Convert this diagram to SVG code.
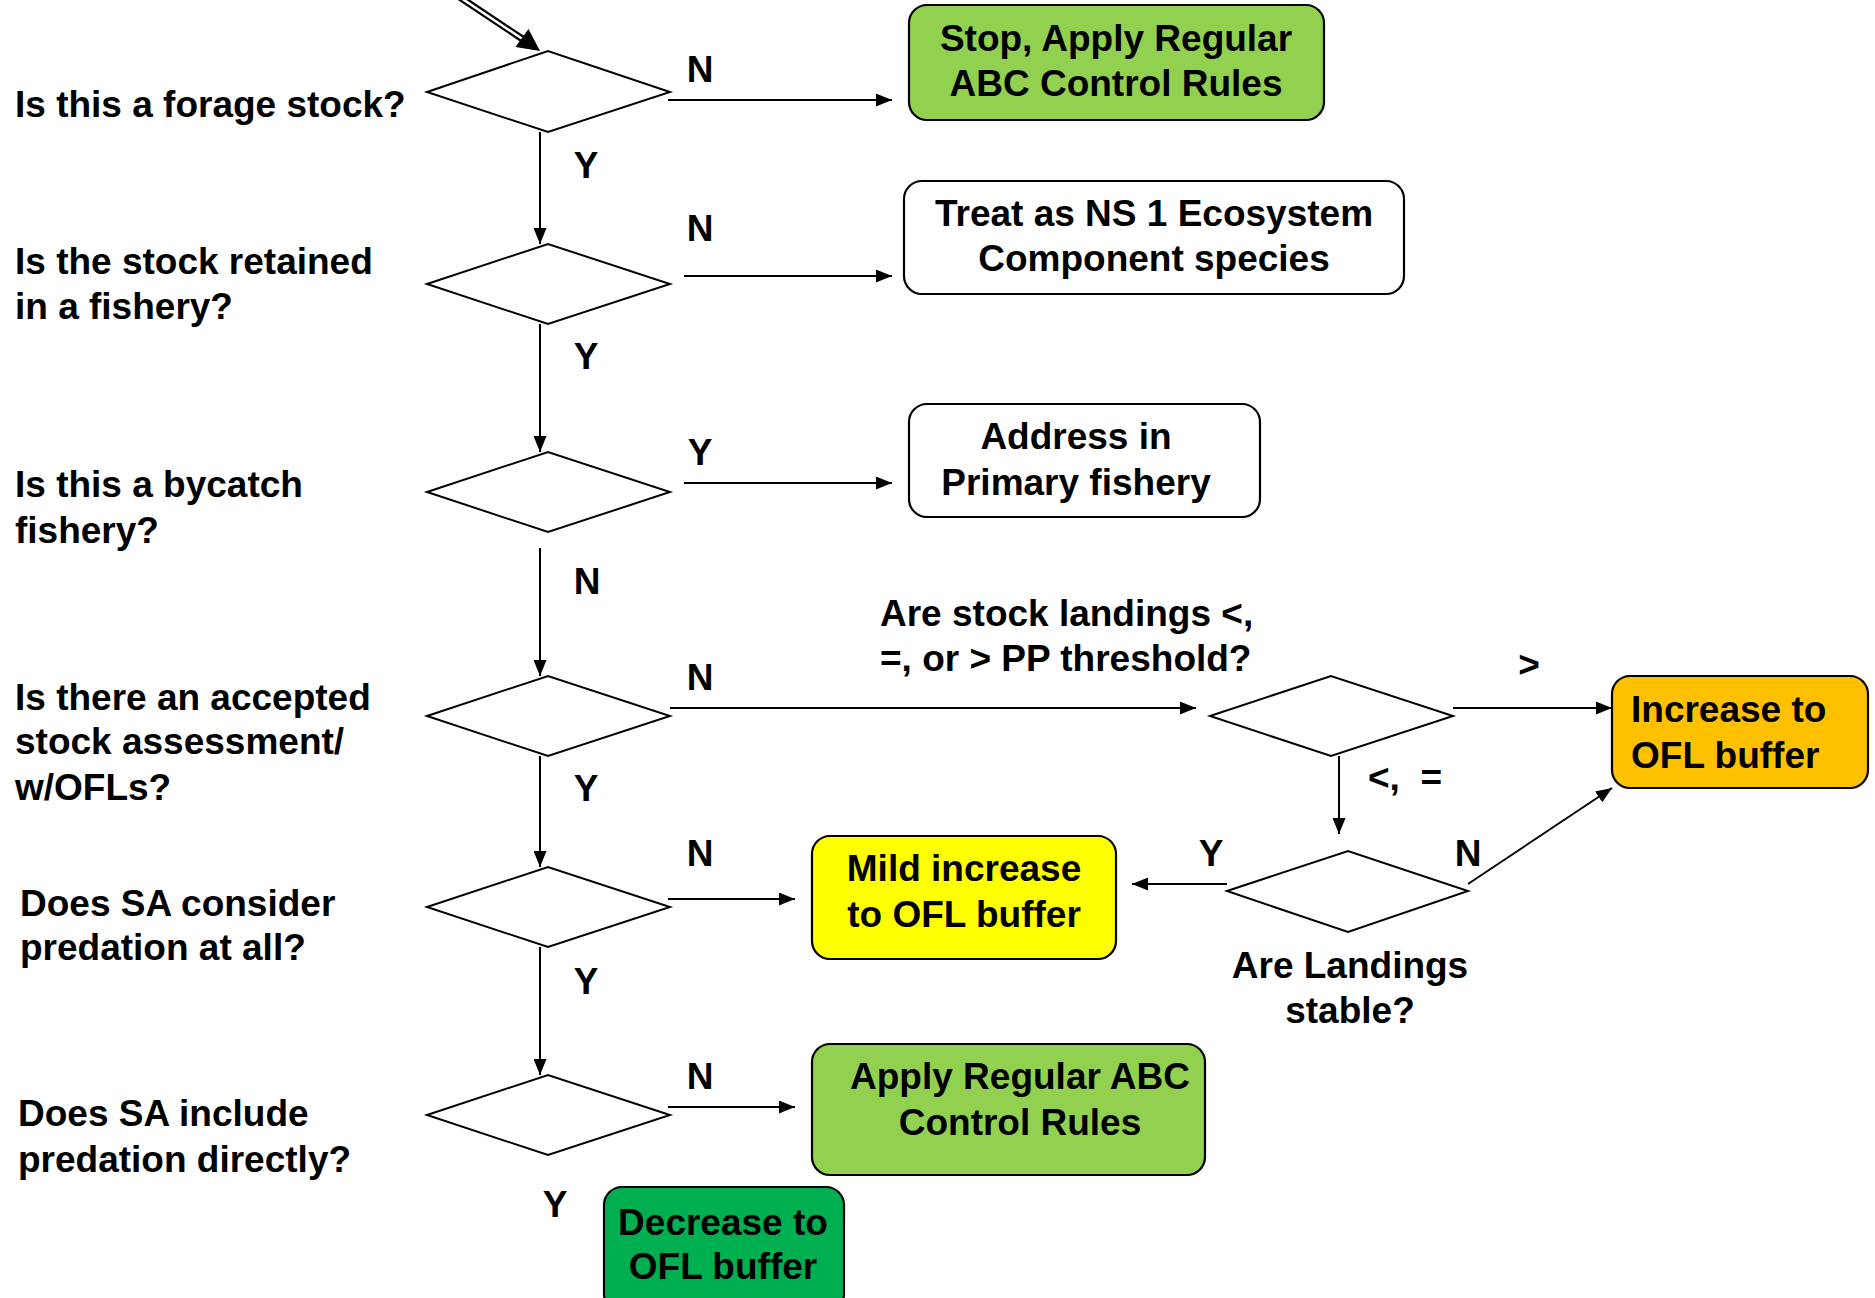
<svg xmlns="http://www.w3.org/2000/svg" width="1875" height="1298" viewBox="0 0 1875 1298">
<style>
text{font-family:"Liberation Sans",Arial,sans-serif;font-weight:bold;font-size:37px;fill:#000}
.c{text-anchor:middle}
.d{fill:#fff;stroke:#000;stroke-width:2}
.b{stroke:#000;stroke-width:2.2}
.l{fill:none;stroke:#000;stroke-width:2}
</style>
<defs>
<marker id="ah" markerUnits="userSpaceOnUse" viewBox="0 0 16 13" markerWidth="16" markerHeight="13" refX="16" refY="6.5" orient="auto">
<path d="M0,0 L16,6.5 L0,13 z" fill="#000"/>
</marker>
</defs>
<rect width="1875" height="1298" fill="#fff"/>

<g id="connectors">
<path d="M455,-6 L524,40" fill="none" stroke="#000" stroke-width="7"/>
<path d="M455,-6 L524,40" fill="none" stroke="#fff" stroke-width="2.5"/>
<polygon points="540,51 515.5,47 528.5,29" fill="#000"/>
<line class="l" x1="540" y1="132" x2="540" y2="244" marker-end="url(#ah)"/>
<line class="l" x1="540" y1="324" x2="540" y2="452" marker-end="url(#ah)"/>
<line class="l" x1="540" y1="548" x2="540" y2="676" marker-end="url(#ah)"/>
<line class="l" x1="540" y1="756" x2="540" y2="867" marker-end="url(#ah)"/>
<line class="l" x1="540" y1="947" x2="540" y2="1075" marker-end="url(#ah)"/>
<line class="l" x1="668" y1="100" x2="892" y2="100" marker-end="url(#ah)"/>
<line class="l" x1="684" y1="276" x2="892" y2="276" marker-end="url(#ah)"/>
<line class="l" x1="684" y1="483" x2="892" y2="483" marker-end="url(#ah)"/>
<line class="l" x1="670" y1="708" x2="1196" y2="708" marker-end="url(#ah)"/>
<line class="l" x1="668" y1="899" x2="795" y2="899" marker-end="url(#ah)"/>
<line class="l" x1="668" y1="1107" x2="795" y2="1107" marker-end="url(#ah)"/>
<line class="l" x1="1453" y1="708" x2="1612" y2="708" marker-end="url(#ah)"/>
<line class="l" x1="1339" y1="756" x2="1339" y2="834" marker-end="url(#ah)"/>
<line class="l" x1="1227" y1="884" x2="1132" y2="884" marker-end="url(#ah)"/>
<line class="l" x1="1468" y1="884" x2="1612" y2="788" marker-end="url(#ah)"/>
</g>

<g id="q1"><polygon class="d" points="427,92 548,51 670,92 548,132"/><text x="15" y="117">Is this a forage stock?</text></g>
<g id="q2"><polygon class="d" points="427,284 548,244 670,284 548,324"/><text x="15" y="274">Is the stock retained</text><text x="15" y="319">in a fishery?</text></g>
<g id="q3"><polygon class="d" points="427,492 548,452 670,492 548,532"/><text x="15" y="497">Is this a bycatch</text><text x="15" y="543">fishery?</text></g>
<g id="q4"><polygon class="d" points="427,716 548,676 670,716 548,756"/><text x="15" y="710">Is there an accepted</text><text x="15" y="754">stock assessment/</text><text x="15" y="800">w/OFLs?</text></g>
<g id="q5"><polygon class="d" points="427,907 548,867 670,907 548,947"/><text x="20" y="916">Does SA consider</text><text x="20" y="960">predation at all?</text></g>
<g id="q6"><polygon class="d" points="427,1115 548,1075 670,1115 548,1155"/><text x="18" y="1126">Does SA include</text><text x="18" y="1172">predation directly?</text></g>
<g id="q7"><polygon class="d" points="1210,716 1331,676 1453,716 1331,756"/><text x="880" y="626">Are stock landings &lt;,</text><text x="880" y="671">=, or &gt; PP threshold?</text></g>
<g id="q8"><polygon class="d" points="1227,891 1348,851 1468,891 1348,932"/><text class="c" x="1350" y="978">Are Landings</text><text class="c" x="1350" y="1023">stable?</text></g>

<g id="stop"><rect class="b" x="909" y="5" width="415" height="115" rx="18" fill="#92D050"/><text class="c" x="1116" y="51">Stop, Apply Regular</text><text class="c" x="1116" y="96">ABC Control Rules</text></g>
<g id="treat"><rect class="b" x="904" y="181" width="500" height="113" rx="18" fill="#fff"/><text class="c" x="1154" y="226">Treat as NS 1 Ecosystem</text><text class="c" x="1154" y="271">Component species</text></g>
<g id="address"><rect class="b" x="909" y="404" width="351" height="113" rx="18" fill="#fff"/><text class="c" x="1076" y="449">Address in</text><text class="c" x="1076" y="495">Primary fishery</text></g>
<g id="increase"><rect class="b" x="1612" y="676" width="256" height="112" rx="18" fill="#FFC000"/><text x="1631" y="722">Increase to</text><text x="1631" y="768">OFL buffer</text></g>
<g id="mild"><rect class="b" x="812" y="836" width="304" height="123" rx="18" fill="#FFFF00"/><text class="c" x="964" y="881">Mild increase</text><text class="c" x="964" y="927">to OFL buffer</text></g>
<g id="apply"><rect class="b" x="812" y="1044" width="393" height="131" rx="18" fill="#92D050"/><text class="c" x="1020" y="1089">Apply Regular ABC</text><text class="c" x="1020" y="1135">Control Rules</text></g>
<g id="decrease"><rect class="b" x="604" y="1187" width="240" height="125" rx="18" fill="#00B050"/><text class="c" x="723" y="1235">Decrease to</text><text class="c" x="723" y="1279">OFL buffer</text></g>

<g id="labels">
<text class="c" x="700" y="82">N</text>
<text class="c" x="586" y="178">Y</text>
<text class="c" x="700" y="241">N</text>
<text class="c" x="586" y="369">Y</text>
<text class="c" x="700" y="465">Y</text>
<text class="c" x="587" y="594">N</text>
<text class="c" x="700" y="690">N</text>
<text class="c" x="586" y="801">Y</text>
<text class="c" x="700" y="866">N</text>
<text class="c" x="586" y="994">Y</text>
<text class="c" x="700" y="1089">N</text>
<text class="c" x="555" y="1217">Y</text>
<text class="c" x="1529" y="677">&gt;</text>
<text x="1368" y="790" xml:space="preserve">&lt;,  =</text>
<text class="c" x="1211" y="866">Y</text>
<text class="c" x="1468" y="866">N</text>
</g>
</svg>
